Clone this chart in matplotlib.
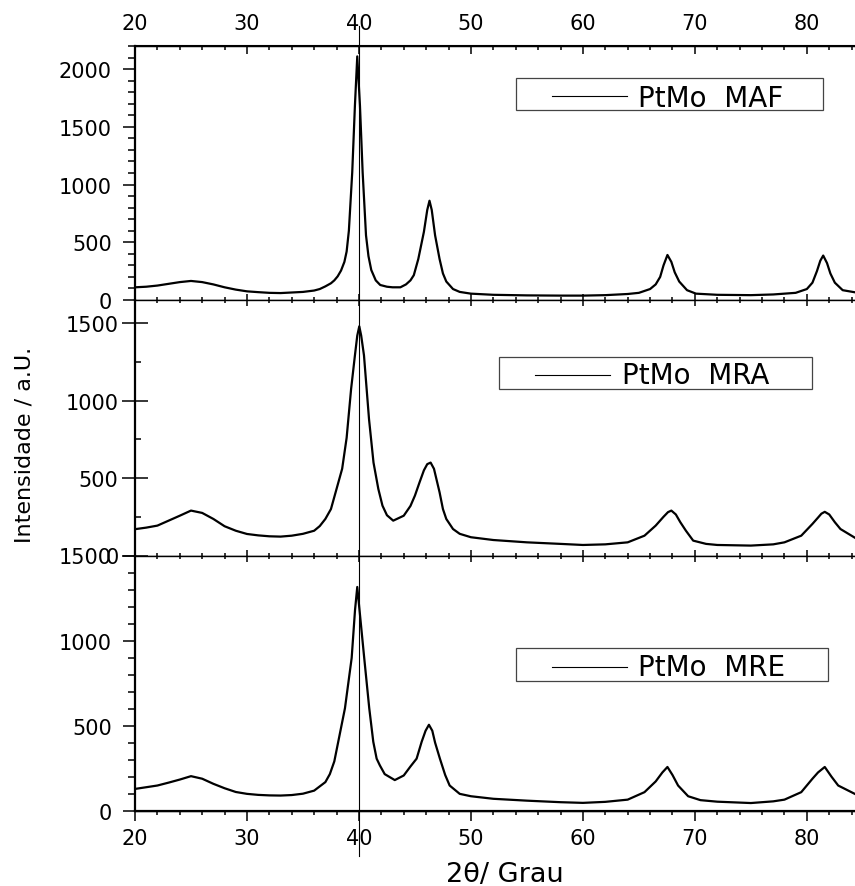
import matplotlib
matplotlib.use("Agg")
import matplotlib.pyplot as plt
from matplotlib.ticker import FixedLocator, MultipleLocator
from matplotlib.patches import Rectangle
from matplotlib.lines import Line2D
import matplotlib.transforms as mtransforms

plt.rcParams['font.family'] = ['DejaVu Sans']

# difratogramas (2theta em graus, intensidade em u.a.)
maf_2t = [20.0, 21.0, 22.0, 23.0, 24.0, 25.0, 26.0, 27.0, 28.0, 29.0, 30.0, 31.0, 32.0, 33.0,
          34.0, 35.0, 36.0, 36.5, 37.0, 37.5, 37.8, 38.1, 38.4, 38.7, 38.9, 39.1, 39.4, 39.64,
          39.85, 40.09, 40.33, 40.63, 40.85, 41.1, 41.5, 41.9, 42.5, 43.0, 43.7, 44.2, 44.6,
          44.9, 45.3, 45.8, 46.1, 46.3, 46.5, 46.8, 47.2, 47.5, 47.8, 48.4, 49.0, 50.0, 52.0,
          55.0, 58.0, 60.0, 62.0, 64.0, 65.0, 66.0, 66.5, 66.9, 67.2, 67.55, 67.9, 68.2, 68.6,
          69.3, 70.1, 72.0, 75.0, 77.0, 79.0, 80.0, 80.5, 80.9, 81.2, 81.46, 81.8, 82.1, 82.5,
          83.2, 84.4]
maf_int = [110, 115, 125, 140, 155, 165, 155, 135, 110, 90, 75, 68, 62, 60,
           65, 70, 82, 95, 118, 145, 170, 205, 255, 330, 420, 600, 1106, 1684,
           2110, 1684, 1106, 560, 380, 260, 170, 130, 115, 110, 110, 135, 170,
           215, 355, 590, 780, 860, 780, 560, 355, 230, 160, 95, 70, 55, 45,
           40, 38, 38, 42, 52, 62, 95, 135, 200, 300, 390, 330, 240, 160,
           85, 55, 45, 42, 48, 62, 95, 150, 250, 340, 385, 320, 230, 150,
           85, 65]

mra_2t = [20.0, 21.0, 22.0, 23.0, 24.0, 25.0, 26.0, 27.0, 28.0, 29.0, 30.0, 31.0, 32.0, 33.0,
          34.0, 35.0, 36.0, 36.5, 37.0, 37.5, 38.0, 38.5, 38.9, 39.3, 39.64, 39.85, 40.03,
          40.2, 40.45, 40.9, 41.3, 41.73, 42.1, 42.5, 43.06, 44.0, 44.6, 45.0, 45.4, 45.8,
          46.1, 46.4, 46.7, 47.2, 47.5, 47.8, 48.4, 49.0, 50.0, 52.0, 55.0, 58.0, 60.0, 62.0,
          64.0, 65.5, 66.5, 67.2, 67.6, 67.9, 68.3, 68.7, 69.2, 69.85, 71.0, 72.0, 75.0, 77.0,
          78.0, 79.5, 80.5, 81.0, 81.3, 81.6, 82.0, 82.5, 83.0, 84.4]
mra_int = [170, 180, 193, 225, 257, 290, 275, 236, 189, 160, 139, 130, 124, 122,
           128, 140, 160, 190, 236, 300, 430, 560, 760, 1076, 1292, 1420, 1480,
           1420, 1292, 880, 600, 430, 322, 260, 225, 257, 320, 387, 470, 550,
           590, 600, 560, 408, 300, 236, 171, 140, 118, 100, 85, 75, 68, 72,
           85, 128, 193, 250, 280, 290, 265, 215, 160, 96, 75, 68, 64, 72,
           85, 128, 204, 245, 270, 282, 265, 215, 171, 110]

mre_2t = [20.0, 21.0, 22.0, 23.0, 24.0, 25.0, 26.0, 27.0, 28.0, 29.0, 30.0, 31.0, 32.0, 33.0,
          34.0, 35.0, 36.0, 37.0, 37.4, 37.8, 38.15, 38.75, 39.35, 39.65, 39.85, 40.05, 40.47,
          40.92, 41.28, 41.58, 41.87, 42.3, 43.2, 44.0, 44.6, 45.15, 45.6, 45.95, 46.25, 46.55,
          46.8, 47.23, 47.7, 48.1, 49.0, 50.0, 52.0, 55.0, 58.0, 60.0, 62.0, 64.0, 65.5, 66.5,
          67.1, 67.55, 68.0, 68.5, 69.4, 70.5, 72.0, 75.0, 77.0, 78.0, 79.5, 80.5, 81.0, 81.6,
          82.2, 82.8, 84.4]
mre_int = [128, 138, 148, 165, 183, 203, 188, 158, 132, 110, 99, 93, 90, 89,
           92, 100, 118, 168, 215, 290, 405, 602, 898, 1180, 1315, 1180, 898,
           602, 405, 306, 266, 215, 180, 207, 260, 306, 405, 470, 505, 470,
           400, 306, 210, 148, 99, 85, 70, 59, 50, 46, 52, 65, 109, 172,
           225, 257, 210, 148, 85, 62, 53, 45, 55, 65, 109, 188, 225, 257,
           200, 148, 95]

amostras = ["PtMo  MAF", "PtMo  MRA", "PtMo  MRE"]
ylims = [2200, 1650, 1500]
ymaj = [500, 500, 500]
ymin = [100, 250, 100]
xmaj = [20, 30, 40, 50, 60, 70, 80]
xmin = [22, 24, 26, 28, 32, 34, 36, 38, 42, 44, 46, 48, 52, 54, 56, 58,
        62, 64, 66, 68, 72, 74, 76, 78, 82, 84]

W, H = 855, 887
fig = plt.figure(figsize=(W / 100, H / 100), dpi=100)

def px_axes(top, bottom):
    return [135 / W, 1 - bottom / H, 1 - 135 / W, (bottom - top) / H]

ax1 = fig.add_axes(px_axes(47, 301))
ax2 = fig.add_axes(px_axes(301, 556.5))
ax3 = fig.add_axes(px_axes(556.5, 811.7))
axes = [ax1, ax2, ax3]
dados = [(maf_2t, maf_int), (mra_2t, mra_int), (mre_2t, mre_int)]

# caixas de legenda (fracao dos eixos): caixa, traco, inicio do texto, linha base
leg = [
    ((0.529, 0.748, 0.4264, 0.126), (0.579, 0.683, 0.8032), 0.6986, 0.765),
    ((0.506, 0.6517, 0.4339, 0.1264), (0.5556, 0.6597, 0.7065), 0.676, 0.674),
    ((0.529, 0.507, 0.4338, 0.1293), (0.579, 0.683, 0.5643), 0.699, 0.533),
]

def x_ticks(axis):
    axis.set_major_locator(FixedLocator(xmaj))
    axis.set_minor_locator(FixedLocator(xmin))

for i, ax in enumerate(axes):
    x, y = dados[i]
    ax.plot(x, y, color="black", lw=1.6)
    ax.set_xlim(20, 84.3)
    ax.set_ylim(0, ylims[i])
    x_ticks(ax.xaxis)
    ax.yaxis.set_major_locator(MultipleLocator(ymaj[i]))
    ax.yaxis.set_minor_locator(MultipleLocator(ymin[i]))
    ax.spines["right"].set_visible(False)
    ax.spines["left"].set_linewidth(1.6)
    for s in ["top", "bottom"]:
        ax.spines[s].set_linewidth(1.0)
    ax.tick_params(axis="x", which="both", direction="in", top=True, bottom=True,
                   labelbottom=False, labeltop=False, width=1.1)
    ax.tick_params(axis="x", which="major", length=4.5)
    ax.tick_params(axis="x", which="minor", length=2.2)
    ax.tick_params(axis="y", which="both", labelsize=15, width=1.1, right=False)
    if i == 1:
        ax.tick_params(axis="y", which="major", direction="inout", length=18.7, pad=2.5)
        ax.tick_params(axis="y", which="minor", direction="in", length=4.3)
    else:
        ax.tick_params(axis="y", which="major", direction="out", length=8.6, pad=8)
        ax.tick_params(axis="y", which="minor", direction="out", length=5)

    box, ln, tx, base = leg[i]
    ax.add_patch(Rectangle(box[:2], box[2], box[3], transform=ax.transAxes,
                           fill=False, ec="#444444", lw=0.9))
    ax.plot([ln[0], ln[1]], [ln[2], ln[2]], transform=ax.transAxes, color="black", lw=0.8)
    ax.text(tx, base, amostras[i], transform=ax.transAxes, fontsize=20, va="baseline")

# eixo superior do primeiro painel, com rotulos
sec1 = ax1.secondary_xaxis("top")
x_ticks(sec1.xaxis)
sec1.spines["top"].set_linewidth(1.5)
sec1.tick_params(axis="x", which="both", direction="in", width=1.1, labelsize=15, pad=9)
sec1.tick_params(axis="x", which="major", length=5.8)
sec1.tick_params(axis="x", which="minor", length=2.9)
ax1.tick_params(axis="x", which="both", top=False)

# eixo inferior do ultimo painel, com rotulos
sec3 = ax3.secondary_xaxis("bottom")
x_ticks(sec3.xaxis)
sec3.spines["bottom"].set_linewidth(1.6)
sec3.tick_params(axis="x", which="both", direction="out", width=1.1, labelsize=15, pad=5)
sec3.tick_params(axis="x", which="major", length=7.2)
sec3.tick_params(axis="x", which="minor", length=2.9)
ax3.tick_params(axis="x", which="both", bottom=False)

# linha de referencia em 40 graus atravessando os tres paineis
trans = mtransforms.blended_transform_factory(ax1.transData, fig.transFigure)
fig.add_artist(Line2D([40, 40], [1 - 857 / H, 1 - 27 / H], transform=trans,
                      color="black", lw=0.8))

fig.text(505 / W, 1 - 875 / H, "2θ/ Grau", ha="center", va="center", fontsize=19.5)
fig.text(25 / W, 1 - 445 / H, "Intensidade / a.U.", ha="center", va="center",
         rotation=90, fontsize=16)

fig.savefig("out.png", dpi=100)
